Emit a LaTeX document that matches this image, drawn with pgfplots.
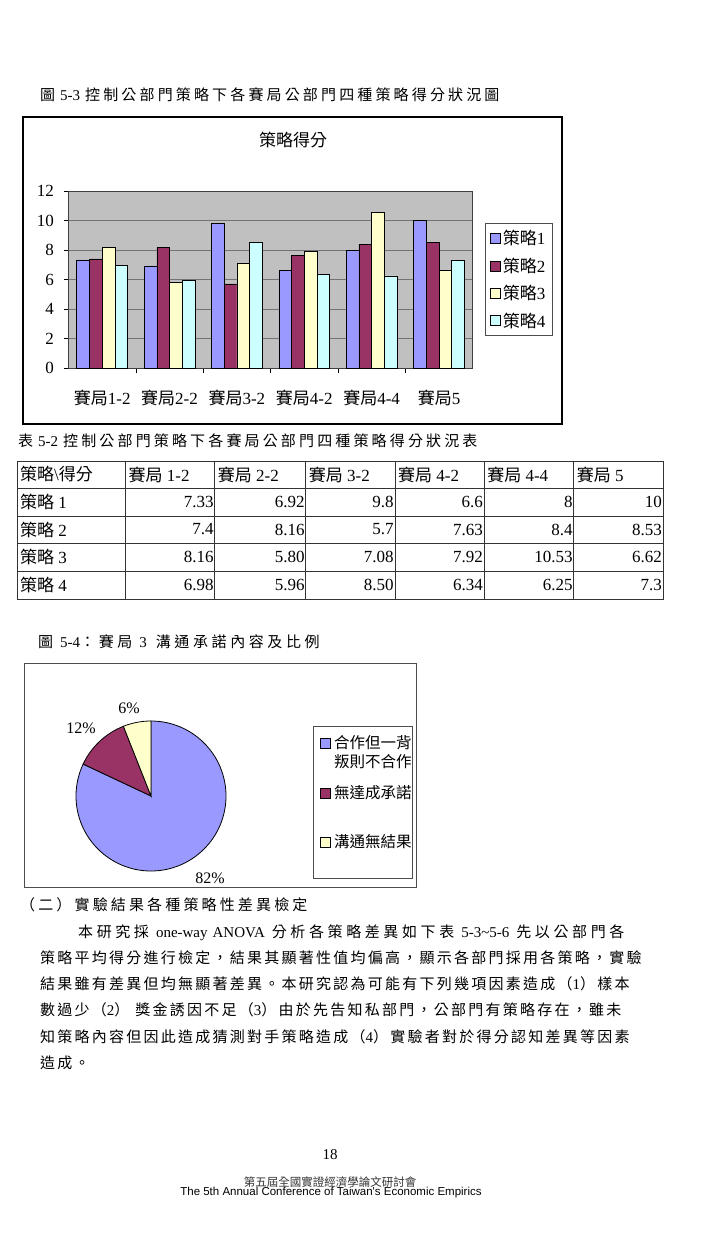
\documentclass[border=0pt]{standalone}
\usepackage{pgfplots}
\pgfplotsset{compat=1.18}
\usepackage{fontspec}
\setmainfont{Liberation Serif}
\newfontfamily\cjk{Noto Sans CJK TC}
\newfontfamily\cjkb[LetterSpace=15]{Noto Sans CJK TC}
\newfontfamily\cjkc[LetterSpace=21]{Noto Sans CJK TC}
\newfontfamily\cjkd[LetterSpace=24]{Noto Sans CJK TC}
\newfontfamily\arial{Liberation Sans}
\definecolor{sA}{HTML}{9999FF}
\definecolor{sB}{HTML}{993366}
\definecolor{sC}{HTML}{FFFFCC}
\definecolor{sD}{HTML}{CCFFFF}
\definecolor{plotbg}{HTML}{C0C0C0}
\newcommand\fs[1]{\fontsize{#1}{#1}\selectfont}
\newcommand\sj{{\cjk 賽局}}
\newcommand\cl{{\cjk 策略}}
\newcommand\hs[1]{\hspace*{#1pt}}
\newcommand\tv[3]{\node[anchor=east,inner sep=0pt,font=\fs{17}] at (#2-1,#1) {#3};}
\def\pieA{82}\def\pieB{12}\def\pieC{6}
\begin{document}
\begin{tikzpicture}
\begin{scope}[x=1pt,y=-1pt]
\path[use as bounding box, fill=white] (0,0) rectangle (707,1236);
% ---------- Figure 5-3 caption
\node[anchor=base west, inner sep=0pt, font=\fs{15}] at (40,101)
  {{\cjkc 圖}\hs{5}5-3\hs{5}{\cjkc 控制公部門策略下各賽局公部門四種策略得分狀況圖}};
% ---------- bar chart frame and title
\draw[line width=1.2pt] (23,117) rectangle (562,424);
\node[font=\fs{17}\cjk] at (293,140) {策略得分};
\end{scope}

\begin{axis}[at={(68.5pt,-368pt)}, anchor=south west, scale only axis,
  width=404.2pt, height=177pt,
  ybar=0pt, bar width=12.7pt,
  xmin=-0.5, xmax=5.5, ymin=0, ymax=12,
  ytick={0,2,...,12}, xtick={0,...,5},
  xticklabels={\sj1-2,\sj2-2,\sj3-2,\sj4-2,\sj4-4,\sj5},
  minor x tick num=1,
  major x tick style={draw=none},
  axis background/.style={fill=plotbg},
  ymajorgrids, grid style={black!55, line width=0.6pt},
  axis line style={black!75, line width=0.8pt},
  tick pos=left, tick align=outside, major tick length=5pt, minor tick length=5pt,
  tick style={black, line width=0.6pt},
  /pgf/number format/assume math mode=true,
  tick label style={font=\fs{17}},
  yticklabel style={xshift=-6pt},
  xticklabel style={yshift=-14pt},
  legend style={at={(1.03,0.819)}, anchor=north west, draw=black!70, fill=white,
    font=\fs{17}, row sep=7.5pt, inner xsep=5pt, inner ysep=5pt, line width=0.8pt},
  legend cell align=left,
  legend image code/.code={\draw[#1, draw=black, line width=0.6pt] (0pt,-5pt) rectangle (10pt,5pt);},
]
\addplot[fill=sA, draw=black, line width=0.6pt] coordinates {(0,7.33) (1,6.92) (2,9.8) (3,6.6) (4,8) (5,10)};
\addplot[fill=sB, draw=black, line width=0.6pt] coordinates {(0,7.4) (1,8.16) (2,5.7) (3,7.63) (4,8.4) (5,8.53)};
\addplot[fill=sC, draw=black, line width=0.6pt] coordinates {(0,8.16) (1,5.80) (2,7.08) (3,7.92) (4,10.53) (5,6.62)};
\addplot[fill=sD, draw=black, line width=0.6pt] coordinates {(0,6.98) (1,5.96) (2,8.50) (3,6.34) (4,6.25) (5,7.3)};
\legend{\cl1,\cl2,\cl3,\cl4}
\end{axis}

\begin{scope}[x=1pt,y=-1pt]
% ---------- Table 5-2
\node[anchor=base west, inner sep=0pt, font=\fs{15}] at (18,446)
  {{\cjkc 表}\hs{5}5-2\hs{5}{\cjkc 控制公部門策略下各賽局公部門四種策略得分狀況表}};
\draw[black!80, line width=0.8pt] (17,461) rectangle (663,599);
\foreach \y in {488,516,543,571} \draw[black!80, line width=0.8pt] (17,\y) -- (663,\y);
\foreach \x in {125.5,214.7,305.7,394.9,484.1,573.7} \draw[black!80, line width=0.8pt] (\x,461) -- (\x,599);
\foreach \x/\t in {20/{\cl\textbackslash{\cjk 得分}}, 128.5/{\sj\ 1-2}, 217.7/{\sj\ 2-2}, 308.7/{\sj\ 3-2}, 397.9/{\sj\ 4-2}, 487.1/{\sj\ 4-4}, 576.7/{\sj\ 5}}
  \node[anchor=west, inner sep=0pt, font=\fs{17}] at (\x,474.5) {\t};
\foreach \y/\t in {502/1, 529.5/2, 557/3, 585/4}
  \node[anchor=west, inner sep=0pt, font=\fs{17}] at (20,\y) {\cl\ \t};
\tv{502}{214.7}{7.33}\tv{502}{305.7}{6.92}\tv{502}{394.9}{9.8}\tv{502}{484.1}{6.6}\tv{502}{573.7}{8}\tv{502}{663}{10}
\tv{529.5}{214.7}{7.4}\tv{529.5}{305.7}{8.16}\tv{529.5}{394.9}{5.7}\tv{529.5}{484.1}{7.63}\tv{529.5}{573.7}{8.4}\tv{529.5}{663}{8.53}
\tv{557}{214.7}{8.16}\tv{557}{305.7}{5.80}\tv{557}{394.9}{7.08}\tv{557}{484.1}{7.92}\tv{557}{573.7}{10.53}\tv{557}{663}{6.62}
\tv{585}{214.7}{6.98}\tv{585}{305.7}{5.96}\tv{585}{394.9}{8.50}\tv{585}{484.1}{6.34}\tv{585}{573.7}{6.25}\tv{585}{663}{7.3}

% ---------- Figure 5-4 caption
\node[anchor=base west, inner sep=0pt, font=\fs{15}] at (38,647)
  {{\cjkd 圖}\hs{7}5-4{\cjkd ：賽局}\hs{7}3\hs{9}{\cjkd 溝通承諾內容及比例}};

% ---------- pie frame, labels, legend
\draw[black!70, line width=1pt] (24,663) rectangle (416,887);
\node[font=\fs{16}] at (129,708) {6\%};
\node[font=\fs{16}] at (81,728) {12\%};
\node[font=\fs{16}] at (210,878) {82\%};
\draw[black!70, line width=0.8pt] (313,726) rectangle (412,878);
\draw[fill=sA, line width=0.8pt] (320,738) rectangle (330,748);
\draw[fill=sB, line width=0.8pt] (320,788) rectangle (330,798);
\draw[fill=sC, line width=0.8pt] (320,837) rectangle (330,847);
\node[anchor=west, inner sep=0pt, font=\fs{15.5}\cjk] at (334,743) {合作但一背};
\node[anchor=west, inner sep=0pt, font=\fs{15.5}\cjk] at (334,762) {叛則不合作};
\node[anchor=west, inner sep=0pt, font=\fs{15.5}\cjk] at (334,793) {無達成承諾};
\node[anchor=west, inner sep=0pt, font=\fs{15.5}\cjk] at (334,842) {溝通無結果};

% ---------- body text
\node[anchor=base west, inner sep=0pt, font=\fs{15}\cjkc] at (20,910) {（二）實驗結果各種策略性差異檢定};
\node[anchor=base west, inner sep=0pt, font=\fs{15}] at (78,937)
  {{\cjkd 本研究採}\hs{7}one-way\hs{5}ANOVA\hs{7}{\cjkd 分析各策略差異如下表}\hs{7}5-3\char`~5-6\hs{7}{\cjkd 先以公部門各}};
\node[anchor=base west, inner sep=0pt, font=\fs{15}\cjkb] at (40,963)
  {策略平均得分進行檢定，結果其顯著性值均偏高，顯示各部門採用各策略，實驗};
\node[anchor=base west, inner sep=0pt, font=\fs{15}] at (40,989)
  {{\cjkb 結果雖有差異但均無顯著差異。本研究認為可能有下列幾項因素造成（}1{\cjkb ）樣本}};
\node[anchor=base west, inner sep=0pt, font=\fs{15}] at (40,1015)
  {{\cjkb 數過少（}2{\cjkb ）}\hs{6}{\cjkb 獎金誘因不足（}3{\cjkb ）由於先告知私部門，公部門有策略存在，雖未}};
\node[anchor=base west, inner sep=0pt, font=\fs{15}] at (40,1042)
  {{\cjkb 知策略內容但因此造成猜測對手策略造成（}4{\cjkb ）實驗者對於得分認知差異等因素}};
\node[anchor=base west, inner sep=0pt, font=\fs{15}\cjkb] at (40,1068) {造成。};

% ---------- footer
\node[font=\fs{15}] at (330,1155) {18};
\node[font=\fs{11.5}\cjk, text=black!80] at (330,1182) {第五屆全國實證經濟學論文研討會};
\node[font=\fs{11.5}\arial] at (331,1193) {The 5th Annual Conference of Taiwan's Economic Empirics};
\end{scope}

% ---------- pie chart
\begin{axis}[at={(151pt,-796pt)}, anchor=center, scale only axis, width=150pt, height=150pt,
  xmin=-1, xmax=1, ymin=-1, ymax=1, hide axis, clip=false]
\filldraw[fill=sA, draw=black, line width=0.8pt] (axis cs:0,0) -- (axis cs:0,1)
  arc[start angle=90, delta angle=-\pieA*3.6, radius=75pt] -- cycle;
\filldraw[fill=sB, draw=black, line width=0.8pt] (axis cs:0,0) -- ++({90-\pieA*3.6}:75pt)
  arc[start angle=90-\pieA*3.6, delta angle=-\pieB*3.6, radius=75pt] -- cycle;
\filldraw[fill=sC, draw=black, line width=0.8pt] (axis cs:0,0) -- ++({90-(\pieA+\pieB)*3.6}:75pt)
  arc[start angle=90-(\pieA+\pieB)*3.6, delta angle=-\pieC*3.6, radius=75pt] -- cycle;
\end{axis}
\end{tikzpicture}
\end{document}
